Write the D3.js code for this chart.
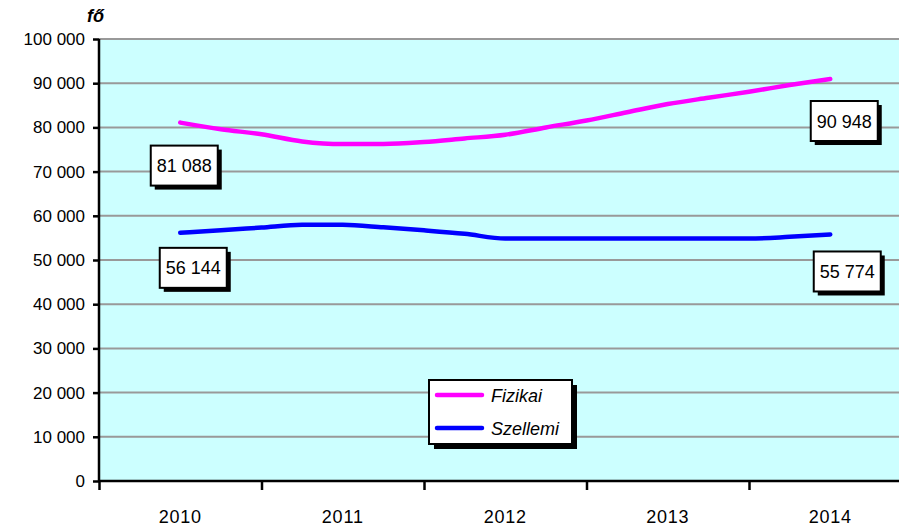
<!DOCTYPE html>
<html>
<head>
<meta charset="utf-8">
<script src="https://cdn.jsdelivr.net/npm/d3@7"></script>
<style>
  body { margin: 0; background: #fff; }
  svg { display: block; font-family: "Liberation Sans", Arial, sans-serif; }
</style>
</head>
<body>
<div id="chart"></div>
<script>
const years = [2010, 2011, 2012, 2013, 2014];
// quarterly sample points the lines are drawn through
const periods = [2010, 2010.25, 2010.5, 2010.75, 2011, 2011.25, 2011.5, 2011.75,
  2012, 2012.25, 2012.5, 2012.75, 2013, 2013.25, 2013.5, 2013.75, 2014];
const fizikai = [81088, 79580, 78450, 76820, 76230, 76230, 76680, 77500,
  78330, 79990, 81570, 83430, 85280, 86710, 88070, 89580, 90948];
const szellemi = [56144, 56730, 57350, 57960, 57960, 57390, 56710, 55920,
  54860, 54860, 54860, 54860, 54860, 54860, 54860, 55240, 55774];
const seriesNames = ["Fizikai", "Szellemi"];
const yTicks = [0, 10000, 20000, 30000, 40000, 50000, 60000, 70000, 80000, 90000, 100000];
const unitLabel = "fő";

const W = 899, H = 529;
const margin = { top: 39, left: 99, bottom: 48 };
const plotRight = 911.5; // plot area runs past the window edge

const svg = d3.select("#chart").append("svg").attr("width", W).attr("height", H);

const x = d3.scaleLinear().domain([2009.5, 2014.5]).range([margin.left, plotRight]);
const y = d3.scaleLinear().domain([0, 100000]).range([H - margin.bottom, margin.top]);

const fmt = (v) => d3.format(",")(v).replace(/,/g, " ");

// plot background
svg.append("rect")
  .attr("x", x(2009.5)).attr("y", y(100000))
  .attr("width", x(2014.5) - x(2009.5)).attr("height", y(0) - y(100000))
  .attr("fill", "#ccffff");

// gridlines
svg.append("g")
  .selectAll("line")
  .data(yTicks.filter((d) => d > 0))
  .join("line")
  .attr("x1", x(2009.5)).attr("x2", x(2014.5))
  .attr("y1", (d) => y(d)).attr("y2", (d) => y(d))
  .attr("stroke", "#999").attr("stroke-width", 2);

// y axis
const yAxis = svg.append("g")
  .attr("transform", `translate(${margin.left},0)`)
  .call(d3.axisLeft(y).tickValues(yTicks).tickFormat(fmt).tickSize(6).tickPadding(8));
yAxis.select(".domain").attr("stroke", "#000").attr("stroke-width", 2.5).attr("d", `M0,${y(0)}V${y(100000)}`);
yAxis.selectAll(".tick line").attr("stroke", "#000").attr("stroke-width", 2.5);
yAxis.selectAll(".tick text").attr("font-size", 17).attr("fill", "#000").attr("font-family", "Liberation Sans, Arial, sans-serif");

// x axis: ticks on category boundaries, labels centred
const bounds = [2009.5, 2010.5, 2011.5, 2012.5, 2013.5, 2014.5];
const xAxis = svg.append("g")
  .attr("transform", `translate(0,${y(0)})`)
  .call(d3.axisBottom(x).tickValues(bounds).tickFormat("").tickSize(9));
xAxis.select(".domain").attr("stroke", "#000").attr("stroke-width", 2.5).attr("d", `M${x(2009.5)},0H${x(2014.5)}`);
xAxis.selectAll(".tick line").attr("stroke", "#000").attr("stroke-width", 2.5);

svg.append("g")
  .selectAll("text")
  .data(years)
  .join("text")
  .attr("x", (d) => x(d))
  .attr("y", y(0) + 42)
  .attr("text-anchor", "middle")
  .attr("font-size", 18)
  .attr("letter-spacing", 0.8)
  .text((d) => d);

svg.append("text")
  .attr("x", 87).attr("y", 22)
  .attr("font-size", 18).attr("font-style", "italic").attr("font-weight", "bold")
  .text(unitLabel);

// lines
const line = d3.line()
  .x((d, i) => x(periods[i]))
  .y((d) => y(d))
  .curve(d3.curveMonotoneX);

const colors = ["#ff00ff", "#0000ff"];
[fizikai, szellemi].forEach((s, k) => {
  svg.append("path")
    .datum(s)
    .attr("fill", "none")
    .attr("stroke", colors[k])
    .attr("stroke-width", 4.5)
    .attr("stroke-linecap", "round")
    .attr("stroke-linejoin", "round")
    .attr("d", line);
});

// data labels with drop shadow boxes
const labels = [
  { s: fizikai, i: 0, dx: 4, dy: 43 },
  { s: fizikai, i: 16, dx: 14, dy: 42 },
  { s: szellemi, i: 0, dx: 13, dy: 35 },
  { s: szellemi, i: 16, dx: 17, dy: 37 }
];
const boxW = 67, boxH = 40;
labels.forEach((l) => {
  const cx = x(periods[l.i]) + l.dx;
  const cy = y(l.s[l.i]) + l.dy;
  const g = svg.append("g").attr("transform", `translate(${cx - boxW / 2},${cy - boxH / 2})`);
  g.append("rect").attr("x", 4).attr("y", 4).attr("width", boxW).attr("height", boxH).attr("fill", "#000");
  g.append("rect").attr("width", boxW).attr("height", boxH).attr("fill", "#fff")
    .attr("stroke", "#000").attr("stroke-width", 2);
  g.append("text")
    .attr("x", boxW / 2).attr("y", boxH / 2 + 6.5)
    .attr("text-anchor", "middle")
    .attr("font-size", 18)
    .text(fmt(l.s[l.i]));
});

// legend
const lg = svg.append("g").attr("transform", "translate(429,380)");
lg.append("rect").attr("x", 5).attr("y", 5).attr("width", 143).attr("height", 64).attr("fill", "#000");
lg.append("rect").attr("width", 143).attr("height", 64).attr("fill", "#fff")
  .attr("stroke", "#000").attr("stroke-width", 2);
seriesNames.forEach((name, k) => {
  const ly = 15 + k * 33;
  lg.append("line")
    .attr("x1", 8).attr("x2", 53).attr("y1", ly).attr("y2", ly)
    .attr("stroke", colors[k]).attr("stroke-width", 4.5).attr("stroke-linecap", "round");
  lg.append("text")
    .attr("x", 62).attr("y", ly + 7)
    .attr("font-size", 18).attr("font-style", "italic")
    .text(name);
});
</script>
</body>
</html>
